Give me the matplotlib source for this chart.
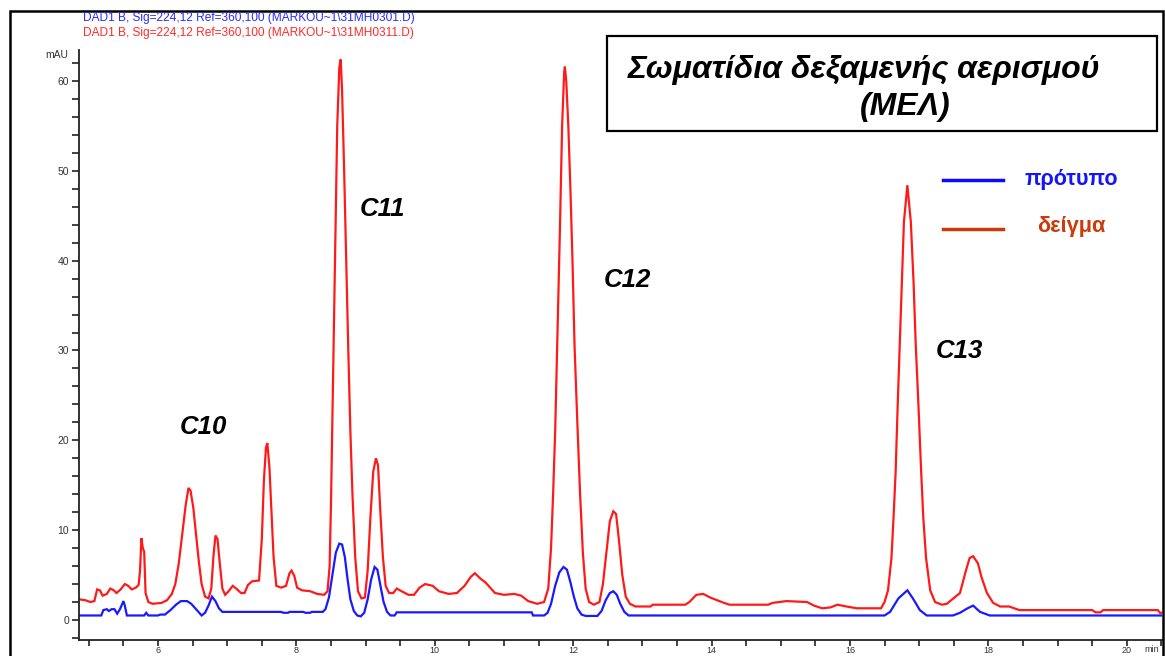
import matplotlib
matplotlib.use("Agg")
import matplotlib.pyplot as plt
from matplotlib.patches import Rectangle
from matplotlib.ticker import MultipleLocator

plt.rcParams['font.family'] = ['Liberation Sans', 'DejaVu Sans']

# Sample trace (δείγμα): retention time (min) and absorbance (mAU)
sample_time = [
    4.86, 4.95, 5.02, 5.08, 5.12, 5.16, 5.20, 5.26, 5.31, 5.36, 5.40, 5.46, 5.52, 5.57,
    5.62, 5.68, 5.72, 5.74, 5.76, 5.78, 5.80, 5.82, 5.86, 5.92, 6.05, 6.13, 6.20, 6.25,
    6.30, 6.35, 6.40, 6.44, 6.47, 6.51, 6.55, 6.59, 6.63, 6.68, 6.73, 6.77, 6.80, 6.83,
    6.86, 6.89, 6.93, 6.97, 7.02, 7.08, 7.13, 7.20, 7.25, 7.30, 7.36, 7.46, 7.50, 7.53,
    7.56, 7.58, 7.61, 7.64, 7.67, 7.71, 7.78, 7.85, 7.90, 7.93, 7.97, 8.01, 8.08, 8.20,
    8.30, 8.40, 8.45, 8.48, 8.50, 8.53, 8.56, 8.59, 8.62, 8.64, 8.66, 8.69, 8.72, 8.75,
    8.78, 8.81, 8.85, 8.89, 8.94, 8.99, 9.03, 9.07, 9.11, 9.15, 9.18, 9.21, 9.25, 9.29,
    9.34, 9.40, 9.45, 9.52, 9.62, 9.70, 9.78, 9.86, 9.97, 10.06, 10.20, 10.32, 10.43,
    10.52, 10.58, 10.66, 10.73, 10.80, 10.87, 11.00, 11.15, 11.25, 11.35, 11.48, 11.58,
    11.64, 11.68, 11.71, 11.74, 11.77, 11.81, 11.84, 11.87, 11.88, 11.90, 11.93, 11.96,
    11.99, 12.02, 12.06, 12.10, 12.14, 12.18, 12.23, 12.30, 12.38, 12.43, 12.48, 12.53,
    12.58, 12.62, 12.66, 12.71, 12.76, 12.82, 12.90, 13.12, 13.15, 13.62, 13.68, 13.78,
    13.88, 13.98, 14.08, 14.18, 14.26, 14.82, 14.88, 15.08, 15.38, 15.48, 15.60, 15.72,
    15.82, 15.95, 16.10, 16.26, 16.45, 16.50, 16.55, 16.60, 16.63, 16.66, 16.69, 16.72,
    16.75, 16.78, 16.83, 16.88, 16.92, 16.95, 16.99, 17.03, 17.06, 17.10,
    17.16, 17.23, 17.33, 17.40, 17.59, 17.68, 17.73, 17.78, 17.85, 17.90, 17.98, 18.07,
    18.17, 18.30, 18.45, 19.50, 19.55, 19.62, 19.66, 20.45, 20.48, 20.55,
]
sample_mau = [
    2.3, 2.2, 2.0, 2.1, 3.4, 3.3, 2.7, 2.9, 3.5, 3.3, 3.0, 3.4, 4.0, 3.8,
    3.4, 3.6, 3.9, 5.5, 9.1, 8.0, 7.6, 3.0, 2.0, 1.8, 1.9, 2.2, 2.9, 4.0,
    6.3, 9.5, 12.8, 14.7, 14.4, 12.5, 9.5, 6.5, 4.0, 2.6, 2.4, 3.5, 7.0, 9.4,
    9.0, 6.5, 3.5, 2.8, 3.2, 3.8, 3.5, 3.0, 3.0, 3.9, 4.3, 4.4, 9.0, 15.5,
    19.2, 19.7, 17.0, 12.0, 7.0, 3.8, 3.6, 3.8, 5.2, 5.5, 4.9, 3.6, 3.3, 3.2,
    2.9, 2.8, 3.2, 6.0, 13.0, 27.0, 41.5, 55.0, 61.5, 62.4, 59.0, 50.0, 40.0, 30.0,
    21.0, 14.0, 7.0, 3.2, 2.4, 2.5, 5.5, 11.5, 16.5, 18.0, 17.2, 12.5, 7.0, 3.8,
    3.0, 3.0, 3.5, 3.2, 2.8, 2.8, 3.6, 4.0, 3.8, 3.2, 2.9, 3.0, 3.8,
    4.8, 5.2, 4.6, 4.2, 3.6, 3.0, 2.8, 2.9, 2.7, 2.1, 1.8, 2.0,
    3.5, 8.0, 14.0, 21.0, 31.0, 44.0, 55.0, 61.0, 61.6, 60.0, 55.0, 48.0,
    40.0, 30.5, 22.0, 14.0, 7.5, 3.5, 2.0, 1.7, 2.0, 4.0, 7.5, 11.0,
    12.1, 11.8, 9.0, 5.0, 2.6, 1.8, 1.5, 1.5, 1.7, 1.7, 2.0, 2.8,
    2.9, 2.5, 2.2, 1.9, 1.7, 1.7, 1.9, 2.1, 2.0, 1.6, 1.3, 1.4,
    1.7, 1.5, 1.3, 1.3, 1.3, 2.0, 3.3, 6.9, 11.4, 16.4, 23.9, 30.8,
    37.5, 44.3, 48.4, 44.3, 37.5, 30.8, 23.9, 16.4, 11.4, 6.9,
    3.3, 2.0, 1.7, 1.8, 3.0, 5.6, 6.9, 7.1, 6.3, 4.8, 3.0, 1.9,
    1.5, 1.5, 1.1, 1.1, 0.85, 0.85, 1.1, 1.1, 0.8, 0.8,
]

# Standard trace (πρότυπο)
standard_time = [
    4.86, 5.18, 5.21, 5.26, 5.29, 5.33, 5.37, 5.41, 5.45, 5.50, 5.52, 5.55, 5.80, 5.83,
    5.86, 6.00, 6.03, 6.10, 6.18, 6.26, 6.33, 6.42, 6.48, 6.55, 6.63, 6.68, 6.73, 6.78,
    6.83, 6.88, 6.93, 7.78, 7.81, 7.88, 7.90, 8.10, 8.13, 8.20, 8.22, 8.38, 8.42, 8.47,
    8.52, 8.57, 8.62, 8.66, 8.70, 8.74, 8.78, 8.83, 8.88, 8.93, 8.98, 9.03, 9.08, 9.13,
    9.17, 9.21, 9.26, 9.31, 9.36, 9.42, 9.45, 11.40, 11.42, 11.58, 11.63, 11.68, 11.74,
    11.80, 11.86, 11.91, 11.96, 12.01, 12.06, 12.12, 12.18, 12.35, 12.41, 12.47, 12.53,
    12.58, 12.63, 12.68, 12.74, 12.80, 16.50, 16.58, 16.70, 16.83, 16.91, 17.01, 17.11,
    17.49, 17.59, 17.70, 17.78, 17.88, 18.02, 20.55,
]
standard_mau = [
    0.5, 0.5, 1.1, 1.2, 1.0, 1.2, 1.2, 0.7, 1.2, 2.1, 1.6, 0.5, 0.5, 0.8,
    0.5, 0.5, 0.6, 0.6, 1.1, 1.7, 2.1, 2.1, 1.8, 1.2, 0.5, 0.8, 1.6, 2.6,
    2.1, 1.3, 0.9, 0.9, 0.8, 0.8, 0.9, 0.9, 0.8, 0.8, 0.9, 0.9, 1.2, 2.5,
    5.0, 7.5, 8.5, 8.4, 7.0, 4.5, 2.3, 1.0, 0.5, 0.4, 0.8, 2.3, 4.5, 5.9,
    5.6, 4.0, 2.0, 0.9, 0.5, 0.5, 0.85, 0.85, 0.5, 0.5, 0.8, 1.8, 3.8,
    5.3, 5.9, 5.6, 4.2, 2.6, 1.3, 0.6, 0.45, 0.45, 1.0, 2.2, 3.0,
    3.2, 2.8, 1.8, 0.9, 0.5, 0.5, 0.9, 2.4, 3.3, 2.4, 1.1, 0.5,
    0.5, 0.8, 1.3, 1.6, 0.9, 0.5, 0.5,
]

# Peak annotations: label, time (min), mAU
peak_labels = ["C10", "C11", "C12", "C13"]
peak_label_time = [6.65, 9.25, 12.78, 17.58]
peak_label_mau = [21.5, 45.7, 37.8, 29.9]

legend_labels = ["πρότυπο", "δείγμα"]
header_lines = [
    r"DAD1 B, Sig=224,12 Ref=360,100 (MARKOU~1\31MH0301.D)",
    r"DAD1 B, Sig=224,12 Ref=360,100 (MARKOU~1\31MH0311.D)",
]
title_lines = ["Σωματίδια δεξαμενής αερισμού", "(ΜΕΛ)"]

W, H = 1165, 656
fig = plt.figure(figsize=(W / 100, H / 100), dpi=100)
fig.patch.set_facecolor("white")


def fx(px):
    return px / W


def fy(py):
    return 1 - py / H


# plot area: left spine at x=79 px, bottom spine at y=640 px
ax = fig.add_axes([fx(79), fy(640), fx(1162) - fx(79), fy(50) - fy(640)])
ax.plot(sample_time, sample_mau, color="#ff1a1a", lw=1.6, solid_joinstyle="miter")
ax.plot(standard_time, standard_mau, color="#1a1aff", lw=1.6, solid_joinstyle="miter")

ax.set_xlim(4.858, 20.51)
ax.set_ylim(-2.23, 63.45)
for s in ("top", "right"):
    ax.spines[s].set_visible(False)
for s in ("left", "bottom"):
    ax.spines[s].set_linewidth(1.3)
    ax.spines[s].set_color("#222222")

ax.xaxis.set_major_locator(MultipleLocator(2))
ax.xaxis.set_minor_locator(MultipleLocator(0.5))
ax.yaxis.set_major_locator(MultipleLocator(10))
ax.yaxis.set_minor_locator(MultipleLocator(2))
ax.tick_params(which="both", direction="out", length=5, width=1.2, color="#222222")
ax.tick_params(axis="y", which="major", labelsize=7.5, labelcolor="#333333", pad=2)
ax.tick_params(axis="x", which="both", length=4)
ax.tick_params(axis="x", which="major", labelsize=6.5, labelcolor="#333333", pad=0.5)
ax.set_yticks(range(0, 61, 10))
ax.set_xticks(range(6, 21, 2))

for lbl, t, v in zip(peak_labels, peak_label_time, peak_label_mau):
    ax.text(t, v, lbl, ha="center", va="center", fontsize=18.5,
            fontweight="bold", fontstyle="italic", color="black")

# axis unit labels
fig.text(fx(68), fy(55), "mAU", ha="right", va="center", fontsize=7.5, color="#333333")
fig.text(fx(1152), fy(650), "min", ha="center", va="center", fontsize=6.5, color="#333333")

# signal headers
fig.text(fx(83), fy(18.5), header_lines[0], ha="left", va="center", fontsize=8.6, color="#2a2aff")
fig.text(fx(83), fy(33), header_lines[1], ha="left", va="center", fontsize=8.6, color="#ff2a2a")

# title box
fig.patches.append(Rectangle((fx(607), fy(131)), fx(1157) - fx(607), fy(36) - fy(131),
                             transform=fig.transFigure, fill=False, ec="black", lw=1.6))
fig.text(fx(628), fy(70), title_lines[0], ha="left", va="center", fontsize=23,
         fontweight="bold", fontstyle="italic")
fig.text(fx(905), fy(107), title_lines[1], ha="center", va="center", fontsize=23,
         fontweight="bold", fontstyle="italic")

# legend
fig.lines.append(plt.Line2D([fx(943), fx(1003)], [fy(180), fy(180)], transform=fig.transFigure,
                            color="#0a0aff", lw=2.5))
fig.lines.append(plt.Line2D([fx(943), fx(1003)], [fy(229), fy(229)], transform=fig.transFigure,
                            color="#cc3a0a", lw=2.5))
fig.text(fx(1071), fy(180), legend_labels[0], ha="center", va="center", fontsize=15.5,
         fontweight="bold", color="#1414ff")
fig.text(fx(1071), fy(227), legend_labels[1], ha="center", va="center", fontsize=15.7,
         fontweight="bold", color="#cc3a0a")

# outer frame
fig.patches.append(Rectangle((fx(10), fy(700)), fx(1163) - fx(10), fy(11) - fy(700),
                             transform=fig.transFigure, fill=False, ec="black", lw=1.8,
                             clip_on=False))

fig.savefig("out.png", dpi=100)
